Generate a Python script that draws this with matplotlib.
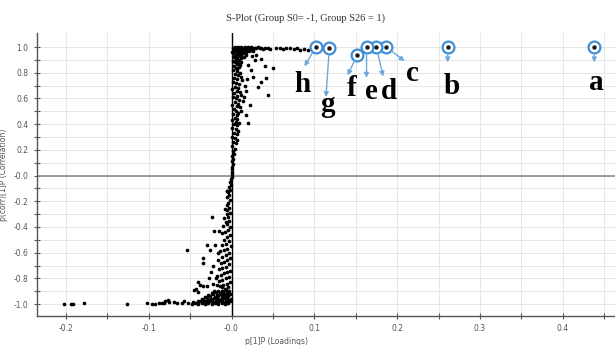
import matplotlib.pyplot as plt

# ---- data ----
# dense top cluster near correlation = 1
top_x = [0.002, 0.004, 0.006, 0.008, 0.010, 0.012, 0.014, 0.016, 0.018, 0.020, 0.022, 0.024, 0.026, 0.028,
         0.003, 0.005, 0.007, 0.009, 0.011, 0.013, 0.015, 0.017, 0.019, 0.002, 0.004, 0.006, 0.008, 0.010,
         0.012, 0.014, 0.003, 0.005, 0.007, 0.009, 0.011, 0.002, 0.004, 0.006, 0.008, 0.010, 0.003, 0.005,
         0.007, 0.009, 0.012, 0.015, 0.017, 0.021, 0.023, 0.026, 0.030, 0.032, 0.034, 0.036, 0.038, 0.041,
         0.044, 0.047, 0.001, 0.013, 0.019, 0.016, 0.008, 0.005]
top_y = [0.99, 1.00, 0.99, 1.00, 0.99, 1.00, 0.995, 1.00, 0.99, 1.00, 0.99, 1.00, 0.995, 0.99,
         0.97, 0.98, 0.96, 0.975, 0.965, 0.98, 0.97, 0.96, 0.975, 0.95, 0.94, 0.955, 0.93, 0.945,
         0.935, 0.95, 0.92, 0.91, 0.925, 0.90, 0.915, 0.89, 0.88, 0.87, 0.885, 0.86, 0.85, 0.84,
         0.83, 0.845, 0.88, 0.92, 0.94, 0.97, 0.98, 0.97, 0.99, 1.00, 0.99, 0.995, 0.985, 0.99,
         0.995, 0.985, 0.96, 0.96, 0.995, 0.985, 0.96, 0.99]

# sparse row running right at correlation = 1
row_x = [0.054, 0.058, 0.062, 0.066, 0.070, 0.075, 0.079, 0.083, 0.088, 0.092, 0.097]
row_y = [0.99, 0.995, 0.985, 0.99, 0.99, 0.985, 0.99, 0.98, 0.985, 0.98, 0.99]

# upper band of the S
upper_x = [0.002, 0.006, 0.010, 0.004, 0.008, 0.003, 0.007, 0.011, 0.002, 0.005, 0.009, 0.013, 0.004,
           0.008, 0.001, 0.006, 0.010, 0.003, 0.007, 0.012, 0.002, 0.005, 0.009, 0.004, 0.008, 0.014,
           0.001, 0.006, 0.003, 0.010, 0.005, 0.008, 0.002, 0.006, 0.012, 0.004, 0.007, 0.001, 0.005,
           0.009, 0.003, 0.006, 0.016, 0.018, 0.015]
upper_y = [0.82, 0.81, 0.80, 0.79, 0.78, 0.76, 0.75, 0.77, 0.73, 0.72, 0.71, 0.74, 0.69,
           0.68, 0.67, 0.66, 0.65, 0.64, 0.62, 0.63, 0.61, 0.60, 0.59, 0.57, 0.56, 0.58,
           0.55, 0.54, 0.52, 0.53, 0.50, 0.49, 0.48, 0.47, 0.50, 0.45, 0.44, 0.43, 0.42,
           0.41, 0.40, 0.39, 0.70, 0.66, 0.61]

upper_out_x = [0.036, 0.028, 0.040, 0.050, 0.024, 0.026, 0.042, 0.019, 0.036, 0.032, 0.044,
               0.022, 0.020, 0.017, 0.020, 0.030, 0.025]
upper_out_y = [0.91, 0.90, 0.85, 0.84, 0.82, 0.77, 0.76, 0.75, 0.73, 0.69, 0.63,
               0.55, 0.41, 0.47, 0.86, 0.94, 0.93]

# middle, nearly vertical part
mid_x = [0.001, 0.005, 0.008, 0.003, 0.006, 0.000, 0.004, 0.007, 0.002, 0.005, 0.001, 0.004, 0.002,
         0.003, 0.000, 0.002, 0.001, 0.002, 0.000, 0.001, 0.000, 0.001, 0.000, -0.001, -0.002, -0.001,
         -0.003, -0.002, -0.004, -0.006, -0.003, -0.005, -0.002, -0.004, -0.006, -0.003, -0.005, -0.008,
         -0.002, -0.006, -0.004, -0.009, -0.003, -0.007, -0.005, -0.010, -0.002]
mid_y = [0.37, 0.36, 0.35, 0.33, 0.32, 0.30, 0.29, 0.28, 0.26, 0.25, 0.23, 0.21, 0.19,
         0.17, 0.15, 0.13, 0.11, 0.09, 0.07, 0.05, 0.03, 0.01, -0.01, -0.03, -0.05, -0.07,
         -0.09, -0.11, -0.13, -0.12, -0.15, -0.17, -0.19, -0.21, -0.23, -0.25, -0.27, -0.26,
         -0.29, -0.30, -0.32, -0.33, -0.35, -0.36, -0.38, -0.39, -0.40]

# lower band of the S
lower_x = [-0.004, -0.008, -0.011, -0.002, -0.006, -0.009, -0.003, -0.007, -0.012, -0.001, -0.005,
           -0.009, -0.014, -0.003, -0.007, -0.011, -0.002, -0.005, -0.009, -0.013, -0.016, -0.003,
           -0.007, -0.011, -0.015, -0.002, -0.005, -0.009, -0.013, -0.017, -0.003, -0.007, -0.011,
           -0.015, -0.019, -0.002, -0.006, -0.010, -0.014, -0.018, -0.022, -0.004, -0.008, -0.012]
lower_y = [-0.42, -0.44, -0.45, -0.46, -0.48, -0.50, -0.51, -0.53, -0.54, -0.55, -0.57,
           -0.58, -0.59, -0.60, -0.62, -0.63, -0.64, -0.66, -0.67, -0.68, -0.66, -0.69,
           -0.71, -0.72, -0.73, -0.74, -0.75, -0.76, -0.77, -0.78, -0.79, -0.80, -0.81,
           -0.82, -0.80, -0.83, -0.84, -0.85, -0.86, -0.85, -0.84, -0.87, -0.88, -0.87]

lower_out_x = [-0.023, -0.021, -0.015, -0.054, -0.030, -0.026, -0.034, -0.034, -0.020, -0.016,
               -0.041, -0.038, -0.034, -0.030, -0.045, -0.043, -0.040, -0.025, -0.022, -0.027,
               -0.006]
lower_out_y = [-0.32, -0.43, -0.43, -0.58, -0.54, -0.58, -0.64, -0.68, -0.54, -0.60,
               -0.83, -0.85, -0.86, -0.86, -0.89, -0.88, -0.91, -0.75, -0.70, -0.80,
               -0.12]

# dense bottom cluster near correlation = -1
bottom_x = [-0.048, -0.044, -0.040, -0.036, -0.032, -0.028, -0.024, -0.020, -0.016, -0.012, -0.008, -0.004,
            -0.046, -0.042, -0.038, -0.034, -0.030, -0.026, -0.022, -0.018, -0.014, -0.010, -0.006, -0.002,
            -0.040, -0.035, -0.031, -0.027, -0.023, -0.019, -0.015, -0.011, -0.007, -0.003,
            -0.036, -0.030, -0.025, -0.021, -0.017, -0.013, -0.009, -0.005, -0.001,
            -0.032, -0.026, -0.020, -0.016, -0.012, -0.008, -0.004,
            -0.028, -0.022, -0.017, -0.013, -0.009, -0.005, -0.002,
            -0.024, -0.019, -0.014, -0.010, -0.006, -0.003,
            -0.021, -0.016, -0.011, -0.007, -0.003]
bottom_y = [-1.00, -0.995, -1.00, -0.99, -1.00, -0.995, -1.00, -0.99, -1.00, -0.995, -1.00, -0.99,
            -0.985, -0.99, -0.98, -0.985, -0.99, -0.98, -0.985, -0.99, -0.98, -0.985, -0.99, -0.98,
            -0.975, -0.97, -0.975, -0.965, -0.97, -0.975, -0.965, -0.97, -0.975, -0.965,
            -0.96, -0.955, -0.96, -0.95, -0.955, -0.96, -0.95, -0.955, -0.96,
            -0.945, -0.94, -0.945, -0.935, -0.94, -0.945, -0.935,
            -0.93, -0.925, -0.93, -0.92, -0.925, -0.93, -0.92,
            -0.915, -0.91, -0.915, -0.905, -0.91, -0.915,
            -0.90, -0.895, -0.90, -0.89, -0.895]

# far left stragglers
far_x = [-0.202, -0.194, -0.191, -0.178, -0.126, -0.102, -0.096, -0.092, -0.088, -0.084,
         -0.080, -0.077, -0.075, -0.081, -0.057, -0.053, -0.060, -0.066, -0.070]
far_y = [-1.00, -1.00, -1.00, -0.995, -1.00, -0.99, -1.00, -1.00, -0.995, -0.99,
         -0.975, -0.97, -0.985, -0.99, -0.98, -0.99, -0.995, -0.99, -0.985]

# marked variables
labels = ['a', 'b', 'c', 'd', 'e', 'f', 'g', 'h']
mark_x = [0.438, 0.261, 0.187, 0.175, 0.163, 0.152, 0.118, 0.102]
mark_y = [1.00, 1.00, 1.00, 1.00, 1.00, 0.94, 0.99, 1.00]
# where the arrows end and where the letters sit
tip_x = [0.438, 0.261, 0.209, 0.183, 0.163, 0.140, 0.114, 0.088]
tip_y = [0.88, 0.88, 0.89, 0.77, 0.76, 0.78, 0.61, 0.85]
lab_x = [0.441, 0.266, 0.218, 0.190, 0.169, 0.145, 0.116, 0.086]
lab_y = [0.83, 0.80, 0.90, 0.76, 0.76, 0.78, 0.66, 0.81]

xs = top_x + row_x + upper_x + upper_out_x + mid_x + lower_x + lower_out_x + bottom_x + far_x
ys = top_y + row_y + upper_y + upper_out_y + mid_y + lower_y + lower_out_y + bottom_y + far_y

fig = plt.figure(figsize=(6.15, 3.45), dpi=100)
ax = fig.add_axes([0.060, 0.084, 0.940, 0.820])

ax.set_xlim(-0.235, 0.463)
ax.set_ylim(-1.093, 1.108)

# grid
ax.set_xticks([-0.2, -0.1, 0.0, 0.1, 0.2, 0.3, 0.4])
ax.set_xticklabels(['-0.2', '-0.1', '-0.0', '0.1', '0.2', '0.3', '0.4'])
ax.set_xticks([-0.15, -0.05, 0.05, 0.15, 0.25, 0.35, 0.45], minor=True)
ax.set_yticks([-1.0, -0.8, -0.6, -0.4, -0.2, 0.0, 0.2, 0.4, 0.6, 0.8, 1.0])
ax.set_yticklabels(['-1.0', '-0.8', '-0.6', '-0.4', '-0.2', '-0.0', '0.2', '0.4', '0.6', '0.8', '1.0'])
ax.set_yticks([-0.9, -0.7, -0.5, -0.3, -0.1, 0.1, 0.3, 0.5, 0.7, 0.9], minor=True)
ax.grid(True, which='both', color='#e6e6e6', linewidth=0.7)
ax.set_axisbelow(True)

ax.tick_params(which='both', direction='inout', length=4, width=0.8, color='#555555',
               labelsize=5.5, labelcolor='#555555', pad=4)
for side in ['top', 'right']:
    ax.spines[side].set_visible(False)
for side in ['left', 'bottom']:
    ax.spines[side].set_color('#555555')
    ax.spines[side].set_linewidth(1.0)

ax.axhline(0, color='#8c8c8c', linewidth=1.2, zorder=1)
ax.axvline(0, color='black', linewidth=1.0, zorder=1)

ax.scatter(xs, ys, s=7, color='black', linewidths=0, zorder=3)

# circled markers, arrows and letters
for i in range(len(labels)):
    ax.plot(mark_x[i], mark_y[i], marker='o', markersize=8.5, markerfacecolor='white',
            markeredgecolor='#3f8fd6', markeredgewidth=1.6, zorder=4, clip_on=False)
    ax.plot(mark_x[i], mark_y[i], marker='o', markersize=2.2, color='#1a1a1a', zorder=5)
    ax.annotate('', xy=(tip_x[i], tip_y[i]), xytext=(mark_x[i], mark_y[i]),
                arrowprops=dict(arrowstyle='-|>', color='#6fa8dc', lw=1.0,
                                mutation_scale=7, shrinkA=5, shrinkB=0), zorder=4)
    ax.text(lab_x[i], lab_y[i], labels[i], fontsize=21, fontweight='bold',
            family='Liberation Serif', ha='center', va='top', zorder=5)

ax.set_xlabel('p[1]P (Loadings)', fontsize=5.5, color='#555555')
ax.xaxis.set_label_coords(0.415, -0.075)
ax.set_ylabel('p(corr)[1]P (Correlation)', fontsize=5.5, color='#555555')
ax.yaxis.set_label_coords(-0.05, 0.5)

fig.text(0.496, 0.948, 'S-Plot (Group S0= -1, Group S26 = 1)', ha='center', va='center',
         fontsize=7.5, family='Liberation Serif', color='#333333')
fig.text(0.07, 0.985, 'A', ha='center', va='bottom', fontsize=20, fontweight='bold',
         family='Liberation Serif')

fig.savefig('out.png', dpi=100)
